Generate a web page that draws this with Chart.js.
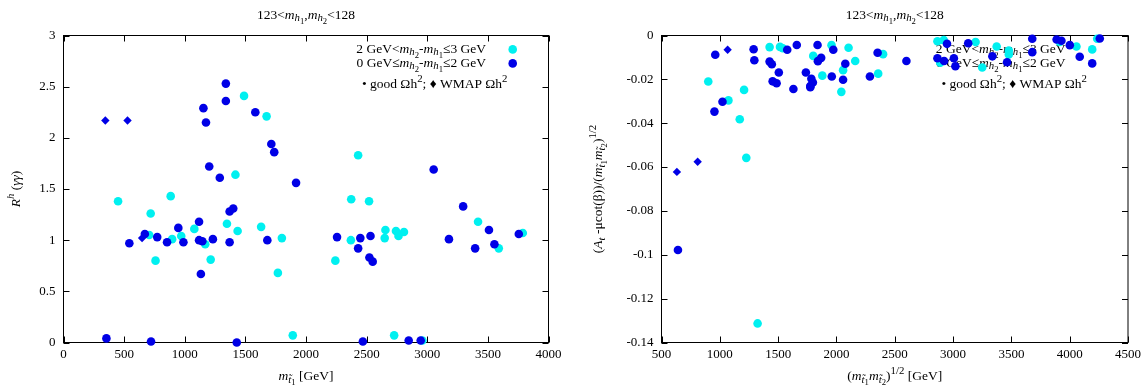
<!DOCTYPE html>
<html>
<head>
<meta charset="utf-8">
<script src="https://cdn.jsdelivr.net/npm/chart.js@4.4.1/dist/chart.umd.min.js"></script>
<style>
  html, body { margin: 0; padding: 0; background: #fff; }
  #wrap { position: relative; width: 1145px; height: 388px; }
  .box { position: absolute; top: 0; height: 388px; }
</style>
</head>
<body>
<div id="wrap">
  <div class="box" style="left:0;width:572px"><canvas id="left"></canvas></div>
  <div class="box" style="left:572px;width:573px"><canvas id="right"></canvas></div>
</div>
<script>
// ---- data ----
// left panel: R^h(gamma gamma) vs m_stop1
const leftCyanX = [1489, 1675, 2430, 1418, 884, 450, 2373, 2520, 719, 1348, 1079, 1436, 1630, 3419, 3788, 3590, 2655, 2742, 2808, 2763, 2649, 2370, 2242, 1801, 1768, 1214, 1169, 971, 896, 707, 759, 1891, 2727, 2960];
const leftCyanY = [2.41, 2.21, 1.83, 1.64, 1.43, 1.38, 1.40, 1.38, 1.26, 1.16, 1.11, 1.09, 1.13, 1.18, 1.07, 0.92, 1.10, 1.09, 1.08, 1.04, 1.02, 1.00, 0.80, 1.02, 0.68, 0.81, 0.96, 1.04, 1.01, 1.05, 0.80, 0.07, 0.07, 0.02];
const leftBlueX = [1339, 1339, 1154, 1175, 1582, 1714, 1738, 1202, 1289, 1918, 3053, 1400, 1370, 1118, 947, 3296, 3509, 3755, 3554, 3395, 3179, 2532, 2448, 2256, 2430, 2523, 2550, 1681, 1232, 1133, 1370, 1118, 1145, 989, 854, 773, 671, 543, 354, 722, 1429, 2469, 2847, 2946];
const leftBlueY = [2.53, 2.36, 2.29, 2.15, 2.25, 1.94, 1.86, 1.72, 1.61, 1.56, 1.69, 1.31, 1.28, 1.18, 1.12, 1.33, 1.10, 1.06, 0.96, 0.92, 1.01, 1.04, 1.02, 1.03, 0.92, 0.83, 0.79, 1.00, 1.01, 0.67, 0.98, 1.00, 0.99, 0.98, 0.98, 1.03, 1.06, 0.97, 0.04, 0.01, 0.00, 0.01, 0.02, 0.02];
const leftWmapX = [345, 528, 648];
const leftWmapY = [2.17, 2.17, 1.02];

// right panel: (A_t - mu cot b)/sqrt(m1 m2) vs sqrt(m1 m2)
const rightCyanX = [901, 1074, 1208, 1171, 1227, 1427, 1516, 1540, 1801, 1879, 1958, 2042, 2057, 2104, 2161, 2400, 2358, 2866, 2920, 2890, 3193, 3250, 3374, 3478, 3478, 3914, 4058, 4236, 1324];
const rightCyanY = [-0.0210, -0.0296, -0.0248, -0.0382, -0.0558, -0.0053, -0.0052, -0.0058, -0.0093, -0.0183, -0.0044, -0.0257, -0.0158, -0.0056, -0.0116, -0.0085, -0.0174, -0.0026, -0.0021, -0.0124, -0.0030, -0.0146, -0.0050, -0.0069, -0.0087, -0.0029, -0.0050, -0.0015, -0.1313];
const rightBlueX = [961, 954, 1023, 1290, 1296, 1427, 1446, 1453, 1487, 1506, 1578, 1660, 1631, 1738, 1776, 1785, 1798, 1776, 1838, 1841, 1869, 1973, 1960, 2057, 2076, 2287, 2353, 2600, 2948, 2866, 2923, 3007, 3020, 3130, 3337, 3463, 3679, 3679, 3888, 3929, 4001, 4086, 4258, 641];
const rightBlueY = [-0.0088, -0.0347, -0.0302, -0.0063, -0.0113, -0.0119, -0.0131, -0.0209, -0.0218, -0.0169, -0.0065, -0.0043, -0.0244, -0.0169, -0.0230, -0.0197, -0.0214, -0.0236, -0.0043, -0.0117, -0.0102, -0.0065, -0.0187, -0.0202, -0.0129, -0.0187, -0.0079, -0.0116, -0.0038, -0.0104, -0.0116, -0.0104, -0.0140, -0.0035, -0.0095, -0.0122, -0.0015, -0.0076, -0.0018, -0.0024, -0.0044, -0.0097, -0.0014, -0.0978];
const rightWmapX = [632, 810, 1067];
const rightWmapY = [-0.0622, -0.0576, -0.0065];

// tick labels
const leftXTicks = [0, 500, 1000, 1500, 2000, 2500, 3000, 3500, 4000];
const leftYTicks = [0, 0.5, 1, 1.5, 2, 2.5, 3];
const rightXTicks = [500, 1000, 1500, 2000, 2500, 3000, 3500, 4000, 4500];
const rightYTicks = [-0.14, -0.12, -0.1, -0.08, -0.06, -0.04, -0.02, 0];

const CYAN = '#00f0f0';
const BLUE = '#0000e6';
const FONT = '"Liberation Serif", "DejaVu Serif", serif';
const TXT = 13.5;

// ---- tiny rich text: l=1 sub, l=2 sub of sub, l=-1 sup ----
const n = t => ({ t });
const it = t => ({ t, i: 1 });
const sb = t => ({ t, i: 1, l: 1 });
const ssb = t => ({ t, l: 2 });
const sp = t => ({ t, l: -1 });

function segFont(s, size) {
  const k = !s.l ? 1 : (s.l === 2 ? 0.64 : 0.8);
  return (s.i ? 'italic ' : '') + (size * k).toFixed(2) + 'px ' + FONT;
}
function segDy(s, size) {
  if (s.l === 1) return 0.22 * size;
  if (s.l === 2) return 0.4 * size;
  if (s.l === -1) return -0.42 * size;
  return 0;
}
function richWidth(ctx, segs, size) {
  let w = 0;
  segs.forEach(s => { ctx.font = segFont(s, size); w += ctx.measureText(s.t).width; });
  return w;
}
function drawRich(ctx, segs, x, y, size, align) {
  const w = richWidth(ctx, segs, size);
  let cx = align === 'center' ? x - w / 2 : align === 'right' ? x - w : x;
  ctx.textAlign = 'left';
  ctx.textBaseline = 'alphabetic';
  segs.forEach(s => {
    ctx.font = segFont(s, size);
    ctx.fillText(s.t, cx, y + segDy(s, size));
    cx += ctx.measureText(s.t).width;
  });
}

const T = 't\u0303';
const titleSegs = [n('123<'), it('m'), sb('h'), ssb('1'), n(','), it('m'), sb('h'), ssb('2'), n('<128')];
const key1 = [n('2 GeV<'), it('m'), sb('h'), ssb('2'), n('-'), it('m'), sb('h'), ssb('1'), n('\u22643 GeV')];
const key2 = [n('0 GeV\u2264'), it('m'), sb('h'), ssb('2'), n('-'), it('m'), sb('h'), ssb('1'), n('\u22642 GeV')];
const key3 = [n('\u2022 good \u03a9h'), sp('2'), n('; \u2666 WMAP \u03a9h'), sp('2')];
const leftXTitle = [it('m'), sb(T), ssb('1'), n(' [GeV]')];
const leftYTitle = [it('R'), { t: 'h', i: 1, l: -1 }, n(' ('), it('\u03b3\u03b3'), n(')')];
const rightXTitle = [n('('), it('m'), sb(T), ssb('1'), it('m'), sb(T), ssb('2'), n(')'), sp('1/2'), n(' [GeV]')];
const rightYTitle = [n('('), it('A'), sb('t'), n(' -\u03bccot(\u03b2))/('), it('m'), sb(T), ssb('1'), it('m'), sb(T), ssb('2'), n(')'), sp('1/2')];

const deco = {
  id: 'deco',
  beforeDatasetsDraw(chart, args, o) {
    const { ctx, chartArea: a, scales: { x, y } } = chart;
    ctx.save();
    ctx.strokeStyle = '#000';
    ctx.lineWidth = 1;
    ctx.strokeRect(a.left, a.top, a.right - a.left, a.bottom - a.top);
    ctx.beginPath();
    x.ticks.forEach(t => {
      const px = Math.round(x.getPixelForValue(t.value)) + 0.5;
      ctx.moveTo(px, a.bottom); ctx.lineTo(px, a.bottom - 6);
      ctx.moveTo(px, a.top); ctx.lineTo(px, a.top + 6);
    });
    y.ticks.forEach(t => {
      const py = Math.round(y.getPixelForValue(t.value)) + 0.5;
      ctx.moveTo(a.left, py); ctx.lineTo(a.left + 6, py);
      ctx.moveTo(a.right, py); ctx.lineTo(a.right - 6, py);
    });
    ctx.stroke();
    // key
    ctx.fillStyle = '#000';
    drawRich(ctx, key1, a.right - 62.5, 52.5, TXT, 'right');
    drawRich(ctx, key2, a.right - 62.5, 66.5, TXT, 'right');
    drawRich(ctx, key3, a.right - 41, 88, TXT, 'right');
    [[CYAN, 49.4], [BLUE, 63.4]].forEach(([c, yy]) => {
      ctx.fillStyle = c;
      ctx.beginPath();
      ctx.arc(a.right - 35.8, yy, 4.3, 0, Math.PI * 2);
      ctx.fill();
    });
    ctx.restore();
  },
  afterDraw(chart, args, o) {
    const { ctx, chartArea: a } = chart;
    const cx = (a.left + a.right) / 2, cy = (a.top + a.bottom) / 2;
    ctx.save();
    ctx.fillStyle = '#000';
    drawRich(ctx, titleSegs, cx, 18.5, TXT, 'center');
    drawRich(ctx, o.xTitle, cx, 380, TXT, 'center');
    ctx.translate(o.yTitleX, cy);
    ctx.rotate(-Math.PI / 2);
    drawRich(ctx, o.yTitle, 0, 0, TXT, 'center');
    ctx.restore();
  }
};

const pts = (xs, ys) => xs.map((v, k) => ({ x: v, y: ys[k] }));

function makeChart(id, s) {
  const tickFont = { family: FONT, size: 13 };
  return new Chart(document.getElementById(id), {
    type: 'scatter',
    data: {
      datasets: [
        { data: pts(s.wx, s.wy), pointStyle: 'rectRot', pointRadius: 4.2, backgroundColor: BLUE, borderWidth: 0, clip: false },
        { data: pts(s.bx, s.by), pointStyle: 'circle', pointRadius: 4.3, backgroundColor: BLUE, borderWidth: 0, clip: false },
        { data: pts(s.cx, s.cy), pointStyle: 'circle', pointRadius: 4.3, backgroundColor: CYAN, borderWidth: 0, clip: false }
      ]
    },
    options: {
      responsive: true,
      maintainAspectRatio: false,
      animation: false,
      events: [],
      layout: { padding: { left: 0, top: 35.5, right: s.padRight, bottom: 0 } },
      scales: {
        x: {
          type: 'linear', min: s.xt[0], max: s.xt[s.xt.length - 1],
          grid: { display: false, drawTicks: false }, border: { display: false },
          afterBuildTicks: sc => { sc.ticks = s.xt.map(v => ({ value: v })); },
          afterFit: sc => { sc.height = 45.5; },
          ticks: { color: '#000', font: tickFont, padding: 4, maxRotation: 0, callback: v => String(v) }
        },
        y: {
          type: 'linear', min: s.yt[0], max: s.yt[s.yt.length - 1],
          grid: { display: false, drawTicks: false }, border: { display: false },
          afterBuildTicks: sc => { sc.ticks = s.yt.map(v => ({ value: v })); },
          afterFit: sc => { sc.width = s.leftW; },
          ticks: { color: '#000', font: tickFont, padding: 8, callback: v => String(v) }
        }
      },
      plugins: {
        legend: { display: false },
        tooltip: { enabled: false },
        deco: { xTitle: s.xTitle, yTitle: s.yTitle, yTitleX: s.yTitleX }
      }
    },
    plugins: [deco]
  });
}

makeChart('left', {
  cx: leftCyanX, cy: leftCyanY, bx: leftBlueX, by: leftBlueY, wx: leftWmapX, wy: leftWmapY,
  xt: leftXTicks, yt: leftYTicks, leftW: 63.5, padRight: 23.5,
  xTitle: leftXTitle, yTitle: leftYTitle, yTitleX: 19.5
});
makeChart('right', {
  cx: rightCyanX, cy: rightCyanY, bx: rightBlueX, by: rightBlueY, wx: rightWmapX, wy: rightWmapY,
  xt: rightXTicks, yt: rightYTicks, leftW: 89.5, padRight: 16.5,
  xTitle: rightXTitle, yTitle: rightYTitle, yTitleX: 30
});
</script>
</body>
</html>
